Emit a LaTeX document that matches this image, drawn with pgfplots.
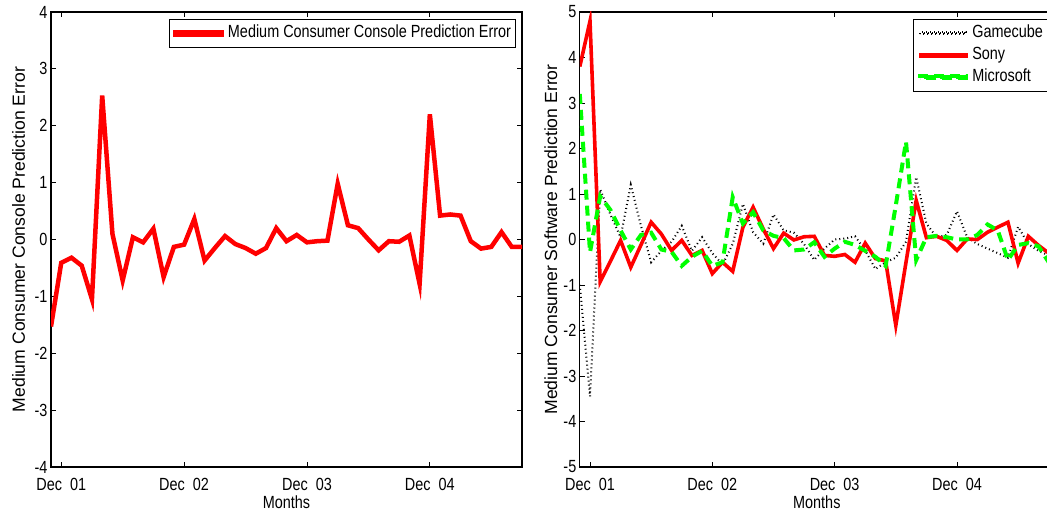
\documentclass[border=0pt]{standalone}
\usepackage{fontspec}
\setmainfont{Liberation Sans}[FakeStretch=0.82]
\newfontfamily\rotfont{Liberation Sans}
\usepackage{pgfplots}
\pgfplotsset{compat=1.18}
\definecolor{mred}{rgb}{1,0,0}
\definecolor{mgreen}{rgb}{0,1,0}

\pgfplotsset{
  mpanel/.style={
    scale only axis, height=455bp, xmin=-1,
    axis line style={line width=1.2bp},
    tick style={line width=0.9bp, black},
    major tick length=5bp, tick align=inside, tick pos=both,
    xtick={0,12,24,36},
    xticklabels={Dec~~01,Dec~~02,Dec~~03,Dec~~04},
    /pgf/number format/assume math mode=true,
    xticklabel style={anchor=base, yshift=-23bp},
    xlabel={Months},
    xlabel style={at={(axis description cs:0.5,-0.0923)}, anchor=base},
    legend cell align=left,
    legend image code/.code={\path (0bp,-1bp) rectangle (46bp,1bp); \draw[##1] (4bp,0bp) -- (46bp,0bp);},
    legend style={at={(1,1)}, anchor=north east, xshift=-6bp, yshift=-7bp,
      draw=black, line width=0.8bp, inner xsep=4.5bp, inner ysep=3bp, row sep=0bp,
      nodes={inner xsep=0bp, inner ysep=2.85bp, text height=12.6bp, text depth=3.7bp},
      /tikz/every odd column/.append style={column sep=4bp}},
  }
}

\begin{document}
\begin{tikzpicture}[font=\fontsize{17.6bp}{21bp}\selectfont]

% Console prediction error
\begin{axis}[mpanel, at={(51bp,48bp)}, anchor=south west, width=471bp,
  xmax=45, ymin=-4, ymax=4, ytick={-4,-3,...,4},
  ylabel={\rotfont Medium Consumer Console Prediction Error},
  ylabel style={at={(axis description cs:-0.0552,0.5)}, anchor=base}]
\addplot[mred, line width=4.5bp] coordinates {
(-1,-1.53) (0,-0.41) (1,-0.32) (2,-0.46) (3,-1.05) (4,2.53) (5,0.10) (6,-0.72)
(7,0.04) (8,-0.05) (9,0.19) (10,-0.66) (11,-0.13) (12,-0.09) (13,0.36) (14,-0.37)
(15,-0.15) (16,0.06) (17,-0.08) (18,-0.15) (19,-0.25) (20,-0.15) (21,0.20) (22,-0.03)
(23,0.08) (24,-0.05) (25,-0.03) (26,-0.02) (27,0.98) (28,0.25) (29,0.20) (30,0.00)
(31,-0.19) (32,-0.03) (33,-0.04) (34,0.07) (35,-0.78) (36,2.20) (37,0.42) (38,0.44)
(39,0.42) (40,-0.03) (41,-0.16) (42,-0.13) (43,0.13) (44,-0.13) (45,-0.13)};
\addlegendentry{Medium Consumer Console Prediction Error}
\end{axis}

% Software prediction error by platform
\begin{axis}[mpanel, at={(579.8bp,48bp)}, anchor=south west, width=474bp,
  xmax=45.5, ymin=-5, ymax=5, ytick={-5,-4,...,5},
  ylabel={\rotfont Medium Consumer Software Prediction Error},
  ylabel style={at={(axis description cs:-0.048,0.5)}, anchor=base}]
\addplot[black, line width=2bp, dash pattern=on 1bp off 3bp] coordinates {
(-1,-1.0) (0,-3.45) (1,1.1) (2,0.55) (3,0.05) (4,1.2) (5,0.3) (6,-0.5)
(7,-0.25) (8,-0.05) (9,0.3) (10,-0.25) (11,0.05) (12,-0.3) (13,-0.55) (14,-0.1)
(15,0.78) (16,0.16) (17,-0.09) (18,0.55) (19,0.2) (20,0.15) (21,-0.1) (22,-0.45)
(23,-0.2) (24,0.0) (25,0.02) (26,0.07) (27,-0.24) (28,-0.65) (29,-0.5) (30,-0.4)
(31,-0.05) (32,1.37) (33,0.35) (34,0.05) (35,0.1) (36,0.62) (37,0.05) (38,-0.1)
(39,-0.2) (40,-0.3) (41,-0.4) (42,0.28) (43,-0.1) (44,-0.25) (45,-0.35)};
\addlegendentry{Gamecube}
\addplot[mred, line width=3.6bp] coordinates {
(-1,3.8) (0,4.8) (1,-0.93) (2,-0.48) (3,-0.02) (4,-0.61) (5,-0.12) (6,0.38)
(7,0.12) (8,-0.24) (9,-0.02) (10,-0.35) (11,-0.24) (12,-0.75) (13,-0.5) (14,-0.70)
(15,0.27) (16,0.71) (17,0.23) (18,-0.20) (19,0.14) (20,-0.01) (21,0.06) (22,0.07)
(23,-0.35) (24,-0.37) (25,-0.33) (26,-0.50) (27,-0.08) (28,-0.42) (29,-0.47) (30,-1.89)
(31,-0.5) (32,0.86) (33,0.04) (34,0.07) (35,-0.02) (36,-0.24) (37,0.01) (38,0.0)
(39,0.16) (40,0.27) (41,0.38) (42,-0.52) (43,0.07) (44,-0.13) (45,-0.30)};
\addlegendentry{Sony}
\addplot[mgreen, line width=4bp, dash pattern=on 10bp off 6bp] coordinates {
(-1,3.2) (0,-0.28) (1,0.95) (2,0.65) (3,0.2) (4,-0.22) (5,0.1) (6,0.15)
(7,-0.22) (8,-0.27) (9,-0.58) (10,-0.38) (11,-0.25) (12,-0.58) (13,-0.5) (14,0.93)
(15,0.35) (16,0.6) (17,0.2) (18,0.08) (19,0.03) (20,-0.24) (21,-0.22) (22,-0.06)
(23,-0.38) (24,-0.2) (25,-0.05) (26,-0.12) (27,-0.25) (28,-0.38) (29,-0.58) (30,0.75)
(31,2.15) (32,-0.45) (33,0.05) (34,0.08) (35,0.05) (36,0.0) (37,0.0) (38,0.1)
(39,0.33) (40,0.2) (41,-0.45) (42,-0.12) (43,-0.08) (44,-0.15) (45,-0.5)};
\addlegendentry{Microsoft}
\end{axis}

\pgfresetboundingbox
\path[use as bounding box] (0,0) rectangle (1047bp,515bp);
\end{tikzpicture}
\end{document}
